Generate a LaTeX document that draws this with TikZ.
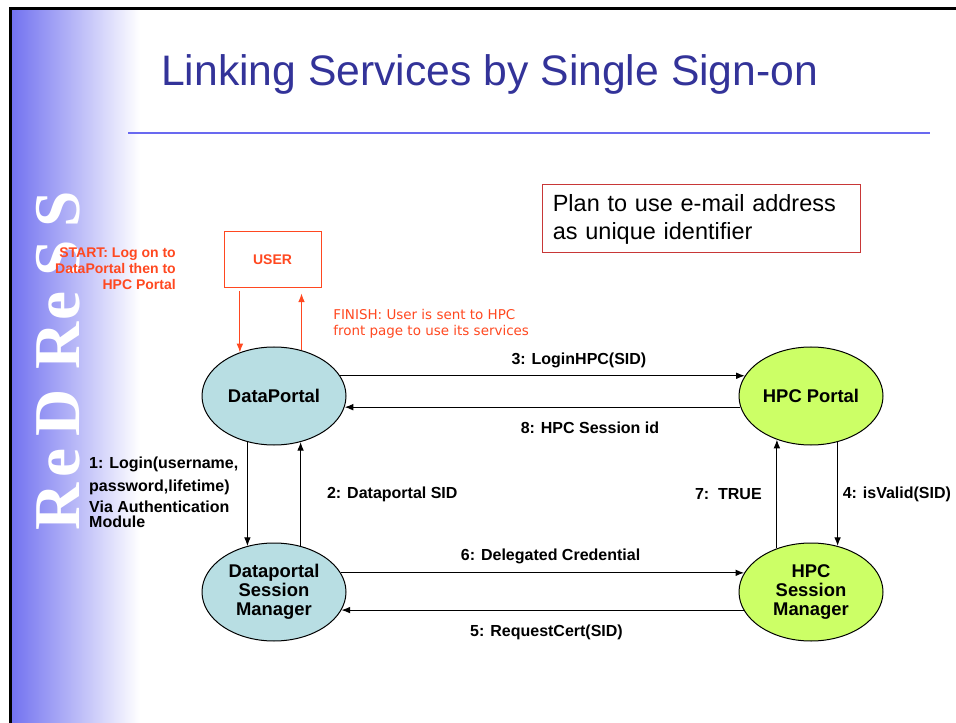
\documentclass[tikz,border=0pt]{standalone}
\usepackage{fontspec}
\setmainfont{Liberation Sans}
\newfontfamily\slideserif{Liberation Serif}
\newfontfamily\slidevera{DejaVu Sans}
\usetikzlibrary{shapes.geometric,positioning,arrows.meta}

\definecolor{titleblue}{RGB}{51,51,153}
\definecolor{bandblue}{RGB}{115,115,240}
\definecolor{ruleblue}{RGB}{105,105,240}
\definecolor{dpcyan}{RGB}{184,222,227}
\definecolor{hpcgreen}{RGB}{204,255,102}
\definecolor{userred}{RGB}{255,72,32}
\definecolor{planred}{RGB}{200,55,55}

\begin{document}
\begin{tikzpicture}[x=0.75pt,y=-0.75pt,node distance=402.75pt,on grid,auto,
    portal/.style={ellipse,draw,line width=0.75pt,minimum width=108pt,minimum height=73.5pt,
                   inner sep=0pt,align=center,font=\fontsize{13.8}{14.2}\selectfont\bfseries},
    msg/.style={font=\fontsize{12}{14}\selectfont\bfseries,inner sep=0pt,text=black},
    msgarrow/.style={-{Latex[length=6.5pt,width=5pt]},line width=0.75pt},
    userarrow/.style={-{Latex[length=6.5pt,width=5pt]},line width=0.75pt,draw=userred},
    logo/.style={rotate=90,anchor=base,inner sep=0pt,text=white,
                 font=\fontsize{49}{49}\selectfont\slideserif\bfseries}]
    \useasboundingbox (0,0) rectangle (956,723);

    % slide frame, side band and title
    \shade[left color=bandblue,right color=white] (12,10) rectangle (140,723);
    \draw[line width=2.25pt] (10.5,723) -- (10.5,8.5) -- (956,8.5);
    \foreach \ch/\yy in {R/507,e/463,D/413,R/346,e/306,S/258,S/209}
      \node[logo] at (79,\yy) {\ch};
    \node[anchor=base west,inner sep=0pt,text=titleblue,font=\fontsize{32}{38}\selectfont]
      (title) at (161,86) {Linking Services by Single Sign-on};
    \draw[ruleblue,line width=1.5pt] (128,133) -- (930,133);

    % notes
    \node[draw=planred,line width=0.75pt,minimum width=238pt,minimum height=51pt,text width=223pt,
          inner xsep=7.5pt,align=left,font=\fontsize{17.6}{21}\selectfont]
      (plan) at (701.5,219) {Plan to use e-mail address\\as unique identifier};
    \node[anchor=north east,inner sep=0pt,align=right,text=userred,
          font=\fontsize{10.5}{12}\selectfont\bfseries]
      (start) at (176,247) {START: Log on to\\DataPortal then to\\HPC Portal};
    \node[anchor=north west,inner sep=0pt,align=left,text=userred,
          font=\fontsize{10.1}{12}\selectfont\slidevera]
      (finish) at (333,309.5) {FINISH: User is sent to HPC\\front page to use its services};

    % user and services
    \node[draw=userred,line width=0.75pt,minimum width=72.75pt,minimum height=42pt,text=userred,
          font=\fontsize{10.5}{12}\selectfont\bfseries] (user) at (272.5,260) {USER};
    \node[portal,fill=dpcyan] (dp) at (274,396) {DataPortal};
    \node[portal,fill=hpcgreen] (hpc) [right=of dp] {HPC Portal};
    \node[portal,fill=dpcyan] (dsm) [below=147pt of dp] {Dataportal\\Session\\Manager};
    \node[portal,fill=hpcgreen] (hsm) [below=147pt of hpc] {HPC\\Session\\Manager};

    \draw[userarrow,shorten <=2.25pt] (user.south -| dp.128) -- (dp.128);
    \draw[userarrow,shorten >=3.75pt] (dp.59) -- (user.south -| dp.59);

    \path[msgarrow] (dp.240) edge node[msg,left=6.5pt,align=left,yshift=1.5pt]
                        {1: Login(username,\\[3.5pt]password,lifetime)\\[1.5pt]Via Authentication\\[-2.5pt]Module} (dsm.120)
                    (dsm.60) edge node[msg,right=19.5pt] {2: Dataportal SID} (dp.300)
                    (dp.17) edge node[msg,above=5.6pt,pos=.59] {3: LoginHPC(SID)} (hpc.163)
                    (hpc.300) edge node[msg,right=3.5pt] {4: isValid(SID)} (hsm.60)
                    (hsm.195) edge node[msg,below=11pt,pos=.49] {5: RequestCert(SID)} (dsm.-15)
                    (dsm.16) edge node[msg,above=6pt,pos=.52] {6: Delegated Credential} (hsm.164)
                    (hsm.128) edge node[msg,left=11pt] {7:\ \ TRUE} (hpc.232)
                    (hpc.189) edge node[msg,below=11pt,pos=.38] {8: HPC Session id} (dp.-9);
\end{tikzpicture}
\end{document}
